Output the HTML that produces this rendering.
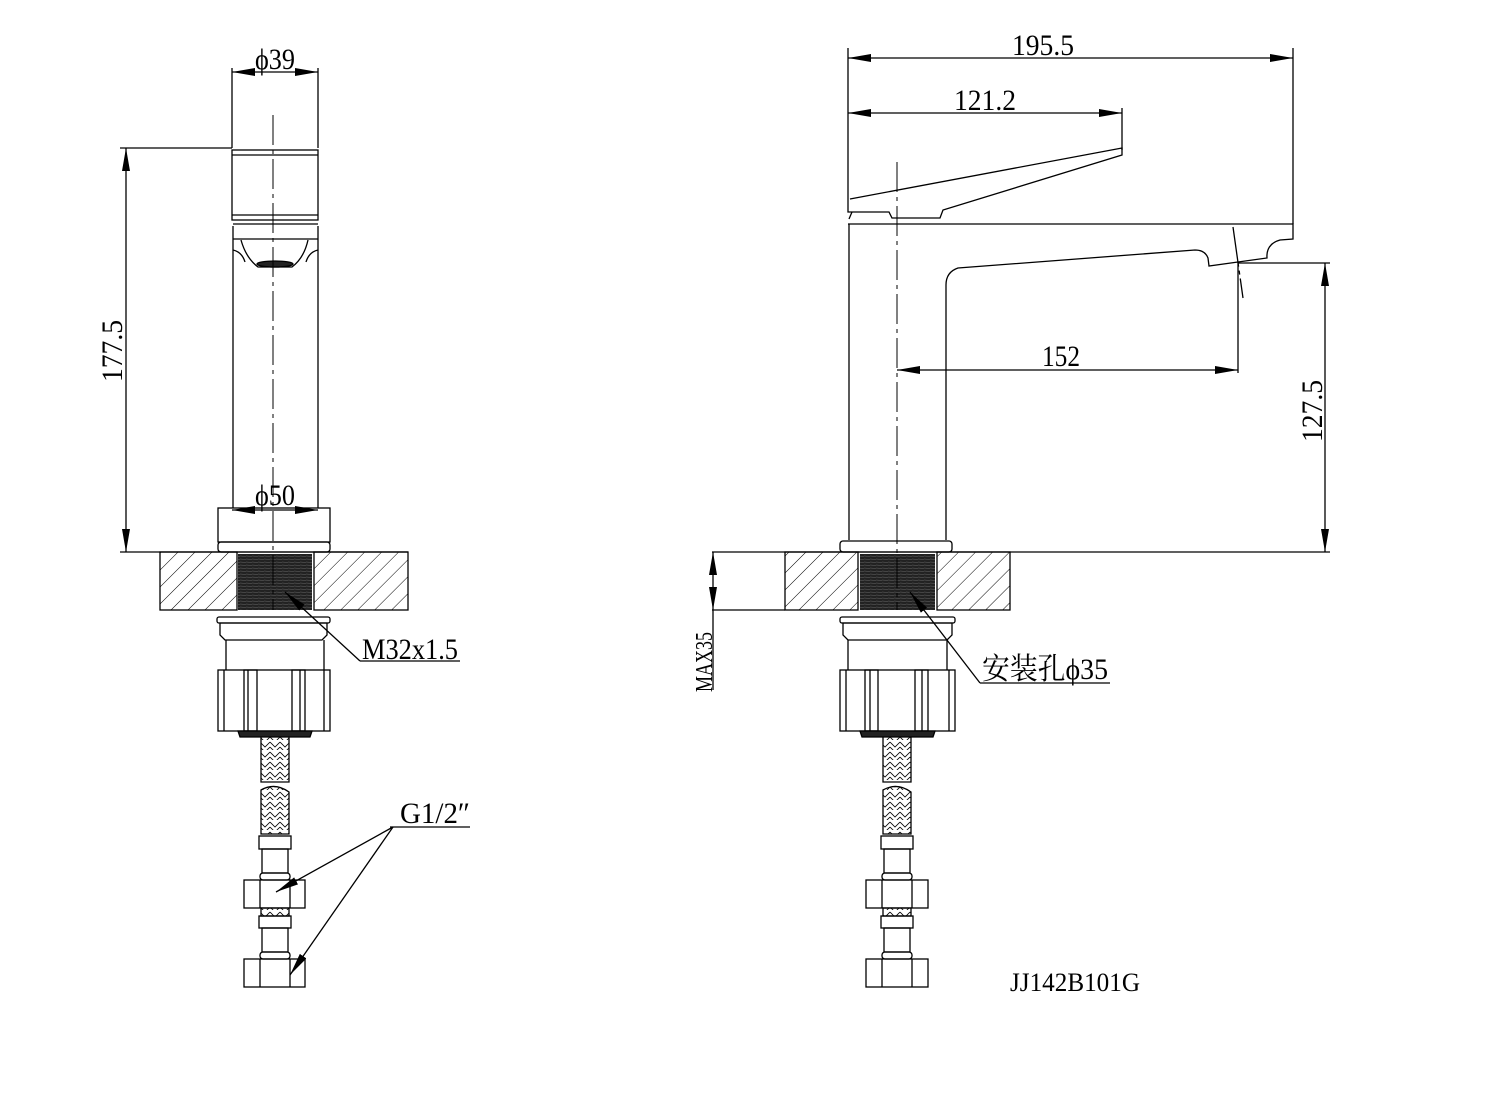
<!DOCTYPE html>
<html><head><meta charset="utf-8"><style>
html,body{margin:0;padding:0;background:#fff}
svg{display:block}
text{font-family:"Liberation Serif","Noto Serif CJK SC",serif;fill:#000}
</style></head><body>
<svg width="1508" height="1100" viewBox="0 0 1508 1100" xmlns="http://www.w3.org/2000/svg">
<defs>
<marker id="ae" markerWidth="24" markerHeight="10" refX="23" refY="4" orient="auto" markerUnits="userSpaceOnUse"><path d="M0,0 L23,4 L0,8 Z" fill="#000"/></marker>
<marker id="as" markerWidth="24" markerHeight="10" refX="0" refY="4" orient="auto" markerUnits="userSpaceOnUse"><path d="M23,0 L0,4 L23,8 Z" fill="#000"/></marker>
<pattern id="hatch" width="12" height="12" patternUnits="userSpaceOnUse" patternTransform="rotate(45)"><line x1="0" y1="0" x2="0" y2="12" stroke="#000" stroke-width="1"/></pattern>
<pattern id="thr" width="6" height="3" patternUnits="userSpaceOnUse"><rect width="6" height="3" fill="#222"/><line x1="0" y1="1" x2="6" y2="1.5" stroke="#666" stroke-width="0.6"/></pattern>
<pattern id="braid" width="10" height="10" patternUnits="userSpaceOnUse"><path d="M0,2 L5,7 L10,2 M0,7 L5,12 L10,7" fill="none" stroke="#000" stroke-width="0.8"/></pattern>
</defs>
<g fill="none" stroke="#000" stroke-width="1.3">
<line x1="232" y1="68" x2="232" y2="148"/><line x1="318" y1="68" x2="318" y2="148"/>
<line x1="232" y1="72" x2="318" y2="72" marker-start="url(#as)" marker-end="url(#ae)"/>
<line x1="120" y1="148" x2="232" y2="148"/>
<line x1="126" y1="148" x2="126" y2="552" marker-start="url(#as)" marker-end="url(#ae)"/>
<rect x="232" y="150" width="86" height="70"/>
<line x1="232" y1="155" x2="318" y2="155"/><line x1="232" y1="215" x2="318" y2="215"/>
<line x1="233" y1="226" x2="233" y2="508"/><line x1="318" y1="226" x2="318" y2="508"/>
<line x1="233" y1="224" x2="318" y2="224"/>
<line x1="233" y1="239" x2="318" y2="239"/>
<path d="M241,240 Q246,258 258,267 L292,267 Q304,258 308,240"/>
<path d="M233,250 Q242,252 245,262 M318,250 Q309,252 306,262"/>
<ellipse cx="275" cy="264" rx="18" ry="3" fill="#222"/>
<line x1="232" y1="510" x2="318" y2="510" marker-start="url(#as)" marker-end="url(#ae)"/>
<rect x="218" y="508" width="112" height="34"/>
<rect x="218" y="542" width="112" height="10" rx="3"/>
<line x1="120" y1="552" x2="408" y2="552"/>
<rect x="160" y="552" width="77" height="58" fill="url(#hatch)"/>
<rect x="314" y="552" width="94" height="58" fill="url(#hatch)"/>
<rect x="238" y="554" width="74" height="56" fill="url(#thr)" stroke="none"/>
<rect x="217" y="617" width="113" height="6" rx="2"/>
<path d="M220,623 L327,623 L327,635 L322,640 L225,640 L220,635 Z"/>
<line x1="226" y1="640" x2="226" y2="670"/><line x1="324" y1="640" x2="324" y2="670"/>
<rect x="218" y="670" width="112" height="61"/>
<line x1="224" y1="670" x2="224" y2="731"/><line x1="324" y1="670" x2="324" y2="731"/>
<rect x="244" y="670" width="13" height="61"/><line x1="248" y1="670" x2="248" y2="731"/>
<rect x="292" y="670" width="13" height="61"/><line x1="300" y1="670" x2="300" y2="731"/>
<path d="M238,731 L312,731 L310,737 L240,737 Z" fill="#222"/>
<path d="M261,737 L261,782 L289,782 L289,737" fill="url(#braid)"/>
<path d="M261,790 Q275,782 289,792 L289,834 L261,834 Z" fill="url(#braid)"/>
<rect x="259" y="836" width="32" height="13"/>
<rect x="262" y="849" width="26" height="24"/>
<rect x="260" y="873" width="30" height="7" rx="3"/>
<rect x="244" y="880" width="61" height="28"/><line x1="260" y1="880" x2="260" y2="908"/><line x1="290" y1="880" x2="290" y2="908"/>
<rect x="261" y="908" width="28" height="8" fill="url(#braid)"/>
<rect x="259" y="916" width="32" height="12"/>
<rect x="262" y="928" width="26" height="24"/>
<rect x="260" y="952" width="30" height="7" rx="3"/>
<rect x="244" y="959" width="61" height="28"/><line x1="260" y1="959" x2="260" y2="987"/><line x1="290" y1="959" x2="290" y2="987"/>
<path d="M360,661 L285,592" marker-end="url(#ae)"/>
<line x1="360" y1="661" x2="460" y2="661"/>
<line x1="390" y1="827" x2="470" y2="827"/>
<path d="M393,827 L276,892" marker-end="url(#ae)"/>
<path d="M393,827 L290,975" marker-end="url(#ae)"/>

<line x1="848" y1="48" x2="848" y2="200"/><line x1="1293" y1="48" x2="1293" y2="224"/>
<line x1="848" y1="58" x2="1293" y2="58" marker-start="url(#as)" marker-end="url(#ae)"/>
<line x1="1122" y1="108" x2="1122" y2="150"/>
<line x1="848" y1="113" x2="1122" y2="113" marker-start="url(#as)" marker-end="url(#ae)"/>
<path d="M848,200 L848,212 L889,212 L892,218 L940,218 L943,210 L1122,155 L1122,148 L850,199"/>
<path d="M852,212 L849,219"/>
<path d="M848,224 L1293,224 L1293,239 L1280,240 Q1266,244 1267,258 L1209,266 L1208,258 Q1205,250 1195,250 L958,268 Q946,272 946,285 L946,540"/>
<line x1="849" y1="224" x2="849" y2="540"/>
<line x1="1233" y1="227" x2="1243" y2="298" stroke-dasharray="40,4,4,4"/>
<line x1="1238" y1="262" x2="1238" y2="373"/>
<line x1="897" y1="370" x2="1238" y2="370" marker-start="url(#as)" marker-end="url(#ae)"/>
<line x1="1238" y1="263" x2="1330" y2="263"/>
<line x1="1325" y1="263" x2="1325" y2="552" marker-start="url(#as)" marker-end="url(#ae)"/>
<rect x="840" y="541" width="112" height="11" rx="3"/>
<line x1="712" y1="552" x2="1330" y2="552"/>
<rect x="785" y="552" width="73" height="58" fill="url(#hatch)"/>
<rect x="937" y="552" width="73" height="58" fill="url(#hatch)"/>
<rect x="860" y="554" width="75" height="56" fill="url(#thr)" stroke="none"/>
<line x1="712" y1="610" x2="785" y2="610"/>
<line x1="713" y1="552" x2="713" y2="610" marker-start="url(#as)" marker-end="url(#ae)"/>
<line x1="713" y1="610" x2="713" y2="690"/>
<rect x="840" y="617" width="115" height="6" rx="2"/>
<path d="M843,623 L952,623 L952,635 L947,640 L848,640 L843,635 Z"/>
<line x1="848" y1="640" x2="848" y2="670"/><line x1="947" y1="640" x2="947" y2="670"/>
<rect x="840" y="670" width="115" height="61"/>
<line x1="846" y1="670" x2="846" y2="731"/><line x1="949" y1="670" x2="949" y2="731"/>
<rect x="865" y="670" width="13" height="61"/><line x1="870" y1="670" x2="870" y2="731"/>
<rect x="915" y="670" width="13" height="61"/><line x1="922" y1="670" x2="922" y2="731"/>
<path d="M860,731 L935,731 L933,737 L862,737 Z" fill="#222"/>
<path d="M883,737 L883,782 L911,782 L911,737" fill="url(#braid)"/>
<path d="M883,790 Q897,782 911,792 L911,834 L883,834 Z" fill="url(#braid)"/>
<rect x="881" y="836" width="32" height="13"/>
<rect x="884" y="849" width="26" height="24"/>
<rect x="882" y="873" width="30" height="7" rx="3"/>
<rect x="866" y="880" width="62" height="28"/><line x1="882" y1="880" x2="882" y2="908"/><line x1="912" y1="880" x2="912" y2="908"/>
<rect x="883" y="908" width="28" height="8" fill="url(#braid)"/>
<rect x="881" y="916" width="32" height="12"/>
<rect x="884" y="928" width="26" height="24"/>
<rect x="882" y="952" width="30" height="7" rx="3"/>
<rect x="866" y="959" width="62" height="28"/><line x1="882" y1="959" x2="882" y2="987"/><line x1="912" y1="959" x2="912" y2="987"/>
<path d="M980,683 L910,592" marker-end="url(#ae)"/>
<line x1="980" y1="683" x2="1110" y2="683"/>
</g>
<g stroke="#000" stroke-width="1" stroke-dasharray="30,5,4,5">
<line x1="273" y1="115" x2="273" y2="610"/>
<line x1="897" y1="162" x2="897" y2="610"/>
</g>
<g font-size="30">
<text x="255" y="69" textLength="40" lengthAdjust="spacingAndGlyphs">ϕ39</text>
<text x="255" y="505" textLength="40" lengthAdjust="spacingAndGlyphs">ϕ50</text>
<text transform="translate(122,382) rotate(-90)" textLength="62" lengthAdjust="spacingAndGlyphs">177.5</text>
<text x="362" y="659" textLength="96" lengthAdjust="spacingAndGlyphs">M32x1.5</text>
<text x="400" y="823" textLength="70" lengthAdjust="spacingAndGlyphs">G1/2″</text>
<text x="1012" y="55" textLength="62" lengthAdjust="spacingAndGlyphs">195.5</text>
<text x="954" y="110" textLength="62" lengthAdjust="spacingAndGlyphs">121.2</text>
<text x="1042" y="366" textLength="38" lengthAdjust="spacingAndGlyphs">152</text>
<text transform="translate(1322,442) rotate(-90)" textLength="62" lengthAdjust="spacingAndGlyphs">127.5</text>
<text transform="translate(712,692) rotate(-90)" font-size="24" textLength="60" lengthAdjust="spacingAndGlyphs">MAX35</text>
<text x="982" y="679" textLength="126" lengthAdjust="spacingAndGlyphs">安装孔ϕ35</text>
<text x="1010" y="991" font-size="26" textLength="130" lengthAdjust="spacingAndGlyphs">JJ142B101G</text>
</g>
</svg>
</body></html>
